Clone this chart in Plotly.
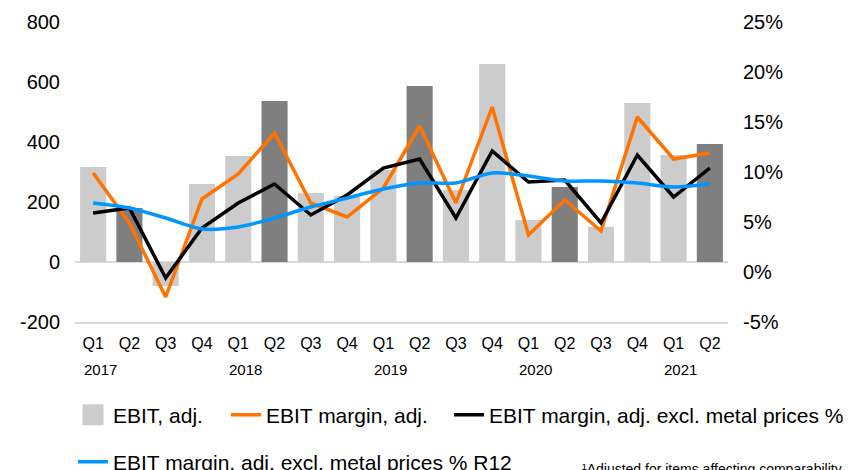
import plotly.graph_objects as go

quarters = ["Q1", "Q2", "Q3", "Q4", "Q1", "Q2", "Q3", "Q4", "Q1", "Q2",
            "Q3", "Q4", "Q1", "Q2", "Q3", "Q4", "Q1", "Q2"]
year_labels = ["2017", "2018", "2019", "2020", "2021"]
year_pos = [0, 4, 8, 12, 16]

ebit_adj = [317, 180, -80, 260, 353, 537, 230, 220, 307, 587,
            240, 660, 140, 250, 117, 530, 357, 393]
ebit_margin = [9.9, 4.9, -2.5, 7.3, 9.8, 13.9, 6.9, 5.5, 8.4, 14.6,
               6.9, 16.5, 3.7, 7.2, 4.1, 15.5, 11.3, 11.9]
ebit_excl = [5.9, 6.4, -0.6, 4.4, 6.9, 8.8, 5.7, 7.7, 10.4, 11.3,
             5.4, 12.1, 9.0, 9.2, 4.9, 11.7, 7.5, 10.4]
ebit_r12 = [6.9, 6.4, 5.4, 4.3, 4.5, 5.4, 6.5, 7.4, 8.3, 8.9,
            8.9, 9.9, 9.6, 9.1, 9.1, 8.9, 8.5, 8.8]

left_ticks = [-200, 0, 200, 400, 600, 800]
left_ticktext = ["-200", "0", "200", "400", "600", "800"]
right_ticks = [-5, 0, 5, 10, 15, 20, 25]
right_ticktext = ["-5%", "0%", "5%", "10%", "15%", "20%", "25%"]

x = list(range(len(quarters)))
LIGHT = "#CCCCCC"
DARK = "#7F7F7F"
bar_colors = [DARK if q == "Q2" else LIGHT for q in quarters]
FONT = "Liberation Sans, Arial, sans-serif"

fig = go.Figure()
fig.add_trace(go.Bar(x=x, y=ebit_adj, marker=dict(color=bar_colors, line_width=0),
                     showlegend=False, yaxis="y"))
# legend swatch for bars
fig.add_trace(go.Scatter(x=[None], y=[None], mode="markers", name="EBIT, adj.",
                         marker=dict(symbol="square", size=16, color=LIGHT,
                                     line=dict(color=LIGHT, width=5)),
                         legend="legend"))
fig.add_trace(go.Scatter(x=x, y=ebit_margin, mode="lines", name="EBIT margin, adj.",
                         line=dict(color="#FF7300", width=3.5), yaxis="y2", legend="legend2"))
fig.add_trace(go.Scatter(x=x, y=ebit_excl, mode="lines", name="EBIT margin, adj. excl. metal prices %",
                         line=dict(color="#000000", width=3.5), yaxis="y2", legend="legend3"))
fig.add_trace(go.Scatter(x=x, y=ebit_r12, mode="lines", name="EBIT margin, adj. excl. metal prices % R12",
                         line=dict(color="#0096FF", width=3.5, shape="spline", smoothing=0.8),
                         yaxis="y2", legend="legend4"))

annotations = []
for lab, p in zip(year_labels, year_pos):
    annotations.append(dict(x=p, y=(322 - 369) / 300, xref="x", yref="paper", text=lab,
                            showarrow=False, xshift=7, yanchor="middle",
                            font=dict(size=15, color="#000", family=FONT)))
annotations.append(dict(x=(580 - 75) / 653, y=-0.457, xref="paper", yref="paper",
                        xanchor="left", yanchor="top", showarrow=False,
                        text="¹Adjusted for items affecting comparability",
                        font=dict(size=14, color="#000", family=FONT)))


def leg(px, py):
    return dict(orientation="h", x=(px - 75) / 653, xanchor="left",
                y=(322 - py) / 300, yanchor="middle",
                font=dict(size=21), itemwidth=30, bgcolor="rgba(0,0,0,0)")


fig.update_layout(
    width=852, height=470,
    margin=dict(l=75, r=124, t=22, b=148, autoexpand=False),
    paper_bgcolor="white", plot_bgcolor="white",
    font=dict(family=FONT, color="#000"),
    bargap=0.28,
    xaxis=dict(tickmode="array", tickvals=x, ticktext=quarters, range=[-0.5, 17.5],
               showgrid=False, zeroline=False, showline=True, linecolor="#D9D9D9", linewidth=1.5,
               ticks="", tickfont=dict(size=16), ticklabelstandoff=6),
    yaxis=dict(range=[-200, 800], tickmode="array", tickvals=left_ticks, ticktext=left_ticktext,
               showgrid=False, zeroline=True, zerolinecolor="#D9D9D9", zerolinewidth=1.5,
               tickfont=dict(size=20), ticklabelstandoff=14),
    yaxis2=dict(range=[-5, 25], tickmode="array", tickvals=right_ticks, ticktext=right_ticktext,
                overlaying="y", side="right", showgrid=False, zeroline=False,
                tickfont=dict(size=20), ticklabelstandoff=14),
    legend=leg(73, 415),
    legend2=leg(226, 415),
    legend3=leg(449, 415),
    legend4=leg(73, 462),
    annotations=annotations,
)

fig.write_html("out.html", config={"displayModeBar": False},
               post_script="document.body.style.margin='0';document.body.style.padding='0';")
